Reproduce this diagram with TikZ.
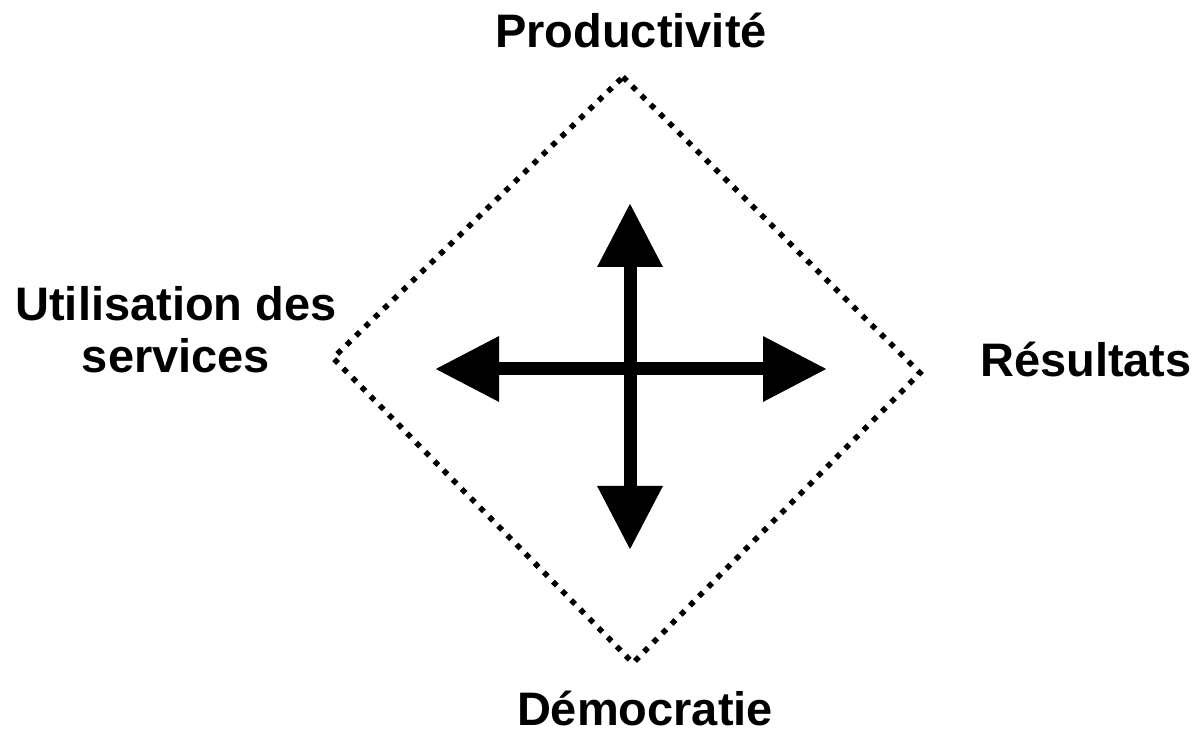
\documentclass[tikz,border=0pt]{standalone}
\usepackage{fontspec}
\setmainfont{Liberation Sans}
\usetikzlibrary{arrows.meta}

\begin{document}
\begin{tikzpicture}[x=0.5pt, y=-0.5pt,
  lbl/.style={font=\fontsize{23.5pt}{26pt}\selectfont\bfseries, inner sep=0pt, anchor=base, align=center},
  bigarrow/.style={line width=6.5pt, {Triangle[width=31pt, length=32pt]}-{Triangle[width=31pt, length=32pt]}},
  dotline/.style={line width=2.75pt, dash pattern=on 2.75pt off 3.75pt}]

\useasboundingbox (0,0) rectangle (1195,731);

% corners of the diamond
\coordinate (top) at (623,77);
\coordinate (right) at (920,373);
\coordinate (bottom) at (633,663);
\coordinate (left) at (333,358);
\draw[dotline] (top) -- (right) -- (bottom) -- (left) -- cycle;

% arrow ends
\coordinate (n) at (630,203);
\coordinate (s) at (630,550);
\coordinate (w) at (435,369);
\coordinate (e) at (827,369);
\draw[bigarrow] (n) -- (s);
\draw[bigarrow] (w) -- (e);

\node[lbl] (prod) at (631,48) {Productivité};
\node[lbl] (res) at (1086,377) {Résultats};
\node[lbl] (demo) at (645,726) {Démocratie};
\node[lbl] (util) at (176,373) {Utilisation des\\services};
\end{tikzpicture}
\end{document}
